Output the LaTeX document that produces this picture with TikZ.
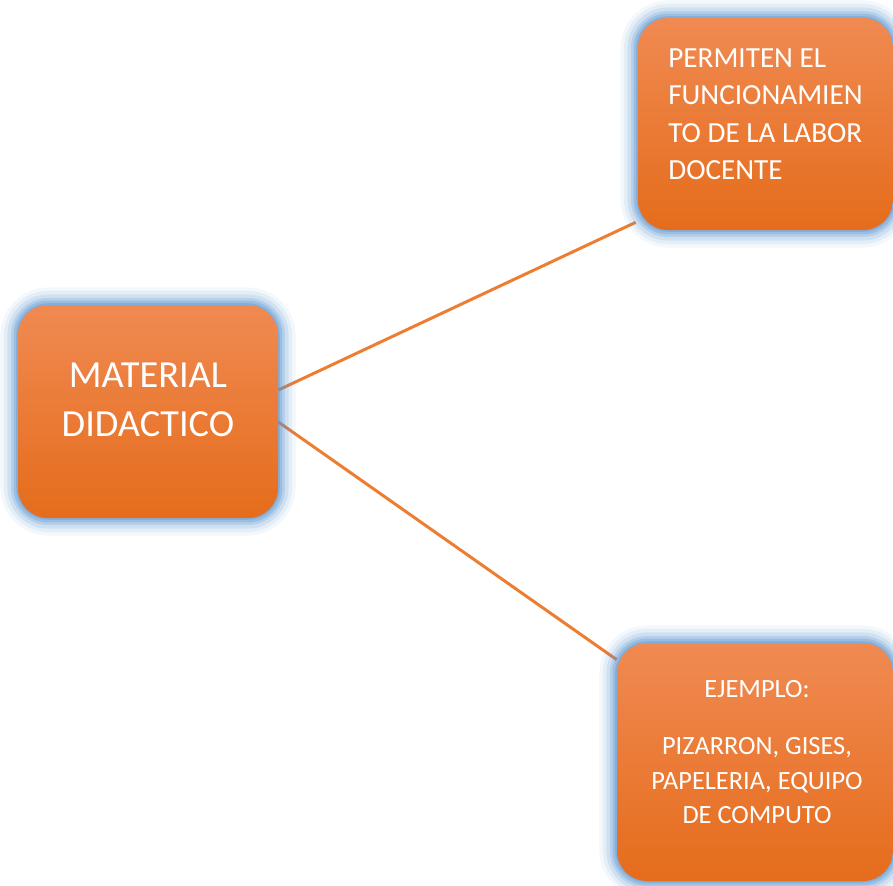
\documentclass[tikz,border=0pt]{standalone}
\usepackage{fontspec}
\setmainfont{Carlito}
\usetikzlibrary{backgrounds}
\definecolor{boxtop}{HTML}{F08A52}
\definecolor{boxmid}{HTML}{F47E30}
\definecolor{boxbot}{HTML}{E56C1B}
\definecolor{glowblue}{HTML}{5B95D0}
\definecolor{linkorange}{HTML}{ED7D31}
\tikzset{
  glowbox/.style={rounded corners=0.6cm, inner sep=0pt,
    top color=boxtop, middle color=boxmid, bottom color=boxbot,
    preaction={draw=glowblue, line width=20pt, draw opacity=0.07},
    preaction={draw=glowblue, line width=16pt, draw opacity=0.1},
    preaction={draw=glowblue, line width=12pt, draw opacity=0.15},
    preaction={draw=glowblue, line width=8pt, draw opacity=0.22},
    preaction={draw=glowblue, line width=5pt, draw opacity=0.3},
    preaction={draw=glowblue, line width=2pt, draw opacity=0.4}},
  boxtext/.style={text=white, inner sep=0pt},
  link/.style={line width=1.7pt, draw=linkorange}
}
\begin{document}
\begin{tikzpicture}
        \useasboundingbox (0,0) rectangle (17.86,-17.72);
        % boxes
        \node[glowbox, minimum width=5.2cm, minimum height=4.26cm] (mat) at (2.96, -8.23) {};
        \node[glowbox, minimum width=5.1cm, minimum height=4.24cm] (perm) at (15.31, -2.48) {};
        \node[glowbox, minimum width=5.52cm, minimum height=4.76cm] (ejem) at (15.1, -15.24) {};

        % texts
        \node[boxtext, font=\fontsize{21.8}{27.8}\selectfont, align=center] (mattext) at (2.96, -8.0) {MATERIAL\\DIDACTICO};
        \node[boxtext, font=\fontsize{16.6}{21.4}\selectfont, align=left, anchor=north west] (permtext) at (13.36, -0.96) {PERMITEN EL\\FUNCIONAMIEN\\TO DE LA LABOR\\DOCENTE};
        \node[boxtext, font=\fontsize{15}{19.8}\selectfont, align=center, anchor=north] (ejemtext) at (15.14, -13.6) {EJEMPLO:\\[12.5pt]PIZARRON, GISES,\\PAPELERIA, EQUIPO\\DE COMPUTO};

        % links
        \begin{scope}[on background layer]
            \draw[link] ([yshift=0.43cm]mat.east) to ([xshift=-0.04cm, yshift=0.16cm]perm.south west);
            \draw[link] ([yshift=-0.21cm]mat.east) to ([yshift=-0.34cm]ejem.north west);
        \end{scope}
\end{tikzpicture}
\end{document}
